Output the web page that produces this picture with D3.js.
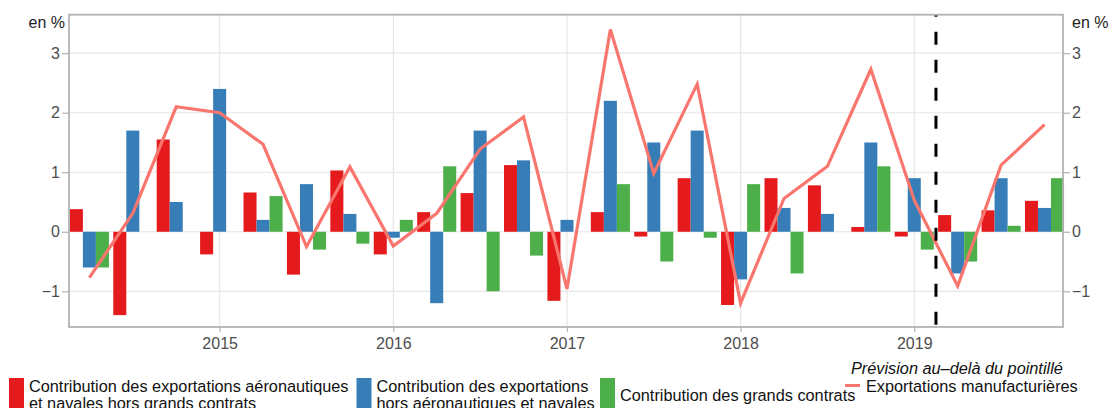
<!DOCTYPE html>
<html>
<head>
<meta charset="utf-8">
<script src="https://cdn.jsdelivr.net/npm/d3@7"></script>
<style>
  body { margin: 0; background: #fff; }
  svg { font-family: "Liberation Sans", Arial, sans-serif; }
</style>
</head>
<body>
<svg id="chart" width="1115" height="408"></svg>
<script>
// quarters 2014T2 .. 2019T4
const quarters = ["2014T2","2014T3","2014T4","2015T1","2015T2","2015T3","2015T4",
  "2016T1","2016T2","2016T3","2016T4","2017T1","2017T2","2017T3","2017T4",
  "2018T1","2018T2","2018T3","2018T4","2019T1","2019T2","2019T3","2019T4"];

const aeroNavales = [0.38, -1.4, 1.55, -0.38, 0.66, -0.72, 1.03, -0.38, 0.33, 0.65, 1.12, -1.16,
  0.33, -0.08, 0.9, -1.23, 0.9, 0.78, 0.08, -0.08, 0.28, 0.36, 0.52];
const horsAero = [-0.6, 1.7, 0.5, 2.4, 0.2, 0.8, 0.3, -0.1, -1.2, 1.7, 1.2, 0.2,
  2.2, 1.5, 1.7, -0.8, 0.4, 0.3, 1.5, 0.9, -0.7, 0.9, 0.4];
const grandsContrats = [-0.6, 0, 0, 0, 0.6, -0.3, -0.2, 0.2, 1.1, -1.0, -0.4, 0,
  0.8, -0.5, -0.1, 0.8, -0.7, 0, 1.1, -0.3, -0.5, 0.1, 0.9];
const exportsManuf = [-0.77, 0.31, 2.1, 2.0, 1.47, -0.25, 1.09, -0.24, 0.31, 1.39, 1.93, -0.96,
  3.4, 0.98, 2.48, -1.2, 0.56, 1.1, 2.73, 0.53, -0.91, 1.12, 1.8];

const yearTicks = [2015, 2016, 2017, 2018, 2019];
const yTicks = [-1, 0, 1, 2, 3];
const forecastAfter = "2019T1";

const seriesNames = [
  ["Contribution des exportations aéronautiques", "et navales hors grands contrats"],
  ["Contribution des exportations", "hors aéronautiques et navales"],
  ["Contribution des grands contrats"]
];
const lineName = "Exportations manufacturières";
const forecastNote = "Prévision au–delà du pointillé";
const colors = ["#e41a1c", "#377eb8", "#4daf4a"];
const lineColor = "#f8766d";

const qTime = q => +q.slice(0, 4) + (+q.slice(5) - 1) / 4;

const svg = d3.select("#chart");
const plotL = 69, plotR = 1063, plotT = 14.7, plotB = 327;

// x: fractional years, 2014.25 -> 89.4, 2019.75 -> 1044.5
const pxPerYear = (1044.5 - 89.4) / 5.5;
const x = d3.scaleLinear()
  .domain([2014.25 - (89.4 - plotL) / pxPerYear, 2019.75 + (plotR - 1044.5) / pxPerYear])
  .range([plotL, plotR]);
const y = d3.scaleLinear().domain([-1.6, 3.647]).range([plotB, plotT]);

const qStep = pxPerYear / 4;
const inner = d3.scaleBand().domain([0, 1, 2]).range([-qStep * 0.45, qStep * 0.45]);

// grid
const grid = svg.append("g");
grid.selectAll(".gy").data(yTicks).join("line")
  .attr("x1", plotL).attr("x2", plotR)
  .attr("y1", d => y(d)).attr("y2", d => y(d))
  .attr("stroke", "#e6e6e6").attr("stroke-width", 1.2);
grid.selectAll(".gx").data(yearTicks).join("line")
  .attr("x1", d => x(d)).attr("x2", d => x(d))
  .attr("y1", plotT).attr("y2", plotB)
  .attr("stroke", "#e6e6e6").attr("stroke-width", 1.2);

// bars
const series = [aeroNavales, horsAero, grandsContrats];
series.forEach((vals, si) => {
  svg.append("g").selectAll("rect").data(vals).join("rect")
    .attr("x", (d, i) => x(qTime(quarters[i])) + inner(si))
    .attr("width", inner.bandwidth())
    .attr("y", d => y(Math.max(0, d)))
    .attr("height", d => Math.abs(y(d) - y(0)))
    .attr("fill", colors[si]);
});

// line
svg.append("path")
  .datum(exportsManuf)
  .attr("fill", "none")
  .attr("stroke", lineColor)
  .attr("stroke-width", 3.2)
  .attr("stroke-linejoin", "miter")
  .attr("d", d3.line().x((d, i) => x(qTime(quarters[i]))).y(d => y(d)));

// forecast dashed line
const fx = x(qTime(forecastAfter) + 0.125);
svg.append("line")
  .attr("x1", fx).attr("x2", fx).attr("y1", plotT).attr("y2", plotB)
  .attr("stroke", "#000").attr("stroke-width", 3)
  .attr("stroke-dasharray", "13,15").attr("stroke-dashoffset", 11);

// frame
svg.append("rect")
  .attr("x", plotL).attr("y", plotT).attr("width", plotR - plotL).attr("height", plotB - plotT)
  .attr("fill", "none").attr("stroke", "#b3b3b3").attr("stroke-width", 1.8);

// axes
function styleAxis(g) {
  g.select(".domain").remove();
  g.selectAll(".tick line").attr("stroke", "#b3b3b3").attr("stroke-width", 1.2);
  g.selectAll(".tick text").attr("fill", "#4d4d4d").style("font-size", "16px")
    .style("font-family", "Liberation Sans, Arial, sans-serif");
}
svg.append("g").attr("transform", `translate(${plotL},0)`)
  .call(d3.axisLeft(y).tickValues(yTicks).tickFormat(d3.format("d")).tickSize(7).tickPadding(2))
  .call(styleAxis);
svg.append("g").attr("transform", `translate(${plotR},0)`)
  .call(d3.axisRight(y).tickValues(yTicks).tickFormat(d3.format("d")).tickSize(7).tickPadding(2))
  .call(styleAxis);
svg.append("g").attr("transform", `translate(0,${plotB})`)
  .call(d3.axisBottom(x).tickValues(yearTicks).tickFormat(d3.format("d")).tickSize(5).tickPadding(6))
  .call(styleAxis);

svg.append("text").attr("x", 65).attr("y", 28).attr("text-anchor", "end")
  .attr("fill", "#222").style("font-size", "16px").text("en %");
svg.append("text").attr("x", 1072).attr("y", 28)
  .attr("fill", "#222").style("font-size", "16px").text("en %");

// legend
const legend = svg.append("g").style("font-size", "16.3px").attr("fill", "#111");
const legendX = [9, 356.5, 600];
seriesNames.forEach((lines, i) => {
  legend.append("rect").attr("x", legendX[i]).attr("y", 378)
    .attr("width", 15).attr("height", 34).attr("fill", colors[i]);
  const t = legend.append("text").attr("x", legendX[i] + 20);
  if (lines.length === 2) {
    t.attr("y", 391.5);
    t.append("tspan").attr("x", legendX[i] + 20).text(lines[0]);
    t.append("tspan").attr("x", legendX[i] + 20).attr("dy", 17).text(lines[1]);
  } else {
    t.attr("y", 400.5).text(lines[0]);
  }
});
legend.append("line").attr("x1", 845).attr("x2", 860).attr("y1", 385.5).attr("y2", 385.5)
  .attr("stroke", lineColor).attr("stroke-width", 3);
legend.append("text").attr("x", 866).attr("y", 391.5).text(lineName);
legend.append("text").attr("x", 851).attr("y", 373.5).style("font-style", "italic").text(forecastNote);
</script>
</body>
</html>
